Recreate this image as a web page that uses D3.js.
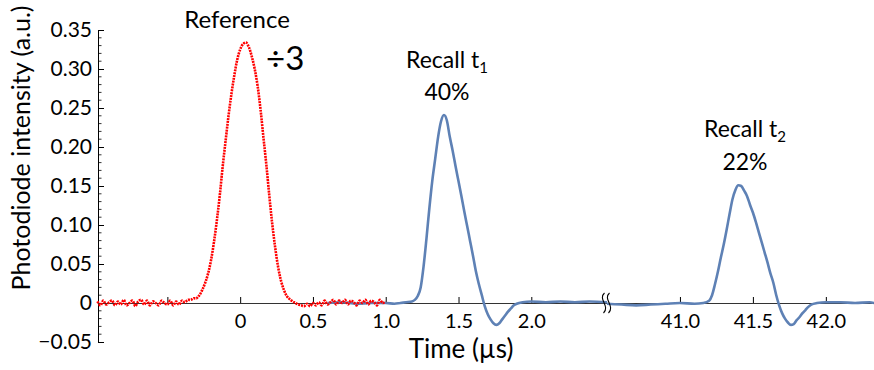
<!DOCTYPE html>
<html><head><meta charset="utf-8">
<script src="https://cdn.jsdelivr.net/npm/d3@7"></script>
<style>
html,body{margin:0;padding:0;background:#fff;}
svg{display:block;font-family:Lato,"Open Sans",sans-serif;font-weight:400;}
</style></head>
<body><svg id="chart" width="874" height="370"></svg>
<script>
// ---------- data ----------
// Reference pulse (divided by 3), sampled every 0.02 µs from -0.98 to 1.00
const refStart = -0.98, refStep = 0.02;
const refValues = [
 0.002,-0.003,0.003,-0.002,0.001,0.003,-0.003,0.002,-0.002,0.004,
 -0.003,0.000,0.003,-0.004,0.002,0.004,-0.002,0.003,-0.003,0.002,
 0.000,-0.003,0.003,0.000,-0.002,0.003,-0.003,0.002,-0.002,0.003,
 0.001,0.004,0.004,0.006,
 0.006,0.010,0.017,0.026,0.038,0.055,0.078,0.106,0.138,0.175,
 0.208,0.240,0.268,0.292,0.312,0.325,0.332,0.334,0.328,0.316,
 0.300,0.278,0.248,0.212,0.177,0.138,0.102,0.072,0.047,0.029,
 0.017,0.009,0.005,0.002,0.000,-0.002,
 -0.003,-0.004,-0.001,-0.004,0.000,-0.003,0.001,-0.003,0.003,-0.002,
 0.001,0.004,-0.002,0.003,0.000,0.004,-0.002,0.003,0.001,-0.003,
 0.003,0.000,0.004,-0.002,0.003,0.001,-0.003,0.004,0.000,0.002
];
// Recall t1 (µs, a.u.)
const recall1Time = [0.60,0.70,0.80,0.90,1.00,1.06,1.10,1.14,1.18,1.20,1.22,1.24,1.26,1.28,1.30,1.32,1.34,1.36,1.38,1.40,
 1.42,1.44,1.46,1.48,1.50,1.52,1.54,1.56,1.58,1.60,1.62,1.64,1.66,1.68,1.70,1.72,1.74,1.76,1.78,1.80,
 1.82,1.84,1.86,1.88,1.90,1.94,2.00,2.10,2.20,2.30,2.40,2.52];
const recall1Value = [0.000,0.001,-0.001,0.000,0.000,-0.001,0.000,0.001,0.002,0.004,0.009,0.020,0.047,0.083,0.122,0.157,0.185,0.213,0.233,0.241,
 0.234,0.213,0.195,0.175,0.156,0.137,0.117,0.098,0.079,0.060,0.040,0.024,0.010,-0.004,-0.014,-0.021,-0.026,-0.028,-0.026,-0.021,
 -0.016,-0.011,-0.007,-0.003,-0.001,0.001,0.002,0.001,0.002,0.001,0.002,0.001];
// Recall t2
const recall2Time = [40.50,40.60,40.70,40.80,40.90,41.00,41.10,41.16,41.20,41.22,41.24,41.26,41.28,41.30,41.32,41.34,41.36,41.38,41.40,41.42,
 41.44,41.46,41.48,41.50,41.52,41.54,41.56,41.58,41.60,41.62,41.64,41.66,41.68,41.70,41.72,41.74,41.76,41.78,41.80,41.82,
 41.84,41.86,41.88,41.90,41.94,42.00,42.10,42.20,42.30,42.33];
const recall2Value = [-0.001,-0.002,-0.003,-0.002,-0.001,0.000,-0.001,0.000,0.003,0.010,0.024,0.040,0.058,0.075,0.094,0.114,0.133,0.145,0.151,0.150,
 0.144,0.137,0.126,0.116,0.104,0.091,0.078,0.065,0.052,0.038,0.026,0.010,-0.003,-0.013,-0.020,-0.025,-0.028,-0.027,-0.022,-0.018,
 -0.013,-0.009,-0.005,-0.002,0.000,0.001,0.001,0.000,0.001,0.000];
const yTicks = [-0.05,0,0.05,0.10,0.15,0.20,0.25,0.30,0.35];
const yTickLabels = ["\u22120.05","0","0.05","0.10","0.15","0.20","0.25","0.30","0.35"];
const xTicks = [-0.5,0,0.5,1.0,1.5,2.0,41.0,41.5,42.0];
const xTickLabels = ["","0","0.5","1.0","1.5","2.0","41.0","41.5","42.0"];

// ---------- scales ----------
const svg = d3.select("#chart");
const x = d3.scaleLinear().domain([-0.98,2.52,40.5,42.33]).range([97.5,607,607,874]);
const y = d3.scaleLinear().domain([-0.05,0.35]).range([342,30]);

// ---------- axes ----------
const yAxis = d3.axisLeft(y).tickValues(yTicks).tickFormat((d,i)=>yTickLabels[i])
  .tickSizeInner(-6).tickSizeOuter(0).tickPadding(6);
const gy = svg.append("g").attr("transform","translate(98,0)").call(yAxis);
gy.select(".domain").attr("stroke","#000");
gy.selectAll("text").attr("font-size",21).attr("fill","#000").attr("font-family","Lato").attr("font-weight",400);
// minor ticks
const minor = d3.range(-5,36).map(i=>i/100).filter(v=>Math.abs(Math.round(v*100)%5)!==0);
svg.append("g").selectAll("line").data(minor).join("line")
  .attr("x1",98).attr("x2",101.5).attr("y1",d=>y(d)).attr("y2",d=>y(d))
  .attr("stroke","#000").attr("stroke-width",0.8);

const xAxis = d3.axisBottom(x).tickValues(xTicks).tickFormat((d,i)=>xTickLabels[i])
  .tickSizeInner(-6).tickSizeOuter(0).tickPadding(11);
const gx = svg.append("g").attr("transform",`translate(0,${y(0)})`).call(xAxis);
gx.select(".domain").attr("stroke","#333");
gx.selectAll("text").attr("font-size",20).attr("fill","#000").attr("font-family","Lato").attr("font-weight",400);

// ---------- data lines ----------
const line = d3.line().x(d=>x(d[0])).y(d=>y(d[1])).curve(d3.curveMonotoneX);
const blue = "#5e81b5";
svg.append("path").datum(recall1Time.map((t,i)=>[t,recall1Value[i]]))
  .attr("d",line).attr("fill","none").attr("stroke",blue).attr("stroke-width",2.6);
svg.append("path").datum(recall2Time.map((t,i)=>[t,recall2Value[i]]))
  .attr("d",line).attr("fill","none").attr("stroke",blue).attr("stroke-width",2.6);
const refData = refValues.map((v,i)=>[refStart+refStep*i,v]);
svg.append("path").datum(refData)
  .attr("d",d3.line().x(d=>x(d[0])).y(d=>y(d[1])).curve(d3.curveCatmullRom))
  .attr("fill","none").attr("stroke","#ff0000").attr("stroke-width",2.6)
  .attr("stroke-dasharray","2,0.9");

// axis break symbol
const bx = x(2.52), by = y(0);
[-2.5,2.5].forEach(o=>{
  svg.append("path")
    .attr("d",`M${bx+o},${by-10} C${bx+o-7},${by-4} ${bx+o+6},${by+3} ${bx+o-1},${by+10}`)
    .attr("fill","none").attr("stroke","#000").attr("stroke-width",1.1);
});

// ---------- labels ----------
svg.append("text").attr("x",461).attr("y",358).attr("text-anchor","middle")
  .attr("font-size",26).text("Time (\u00b5s)");
svg.append("text").attr("transform","translate(30,148) rotate(-90)").attr("text-anchor","middle")
  .attr("font-size",25).text("Photodiode intensity (a.u.)");
svg.append("text").attr("x",237).attr("y",28).attr("text-anchor","middle").attr("font-size",24).text("Reference");
svg.append("text").attr("x",266).attr("y",70).attr("font-size",33).text("\u00f73");
const r1 = svg.append("text").attr("x",447).attr("y",68).attr("text-anchor","middle").attr("font-size",23);
r1.append("tspan").text("Recall t");
r1.append("tspan").attr("font-size",15).attr("dy",5).text("1");
svg.append("text").attr("x",447).attr("y",100).attr("text-anchor","middle").attr("font-size",23).text("40%");
const r2 = svg.append("text").attr("x",745).attr("y",137).attr("text-anchor","middle").attr("font-size",23);
r2.append("tspan").text("Recall t");
r2.append("tspan").attr("font-size",15).attr("dy",5).text("2");
svg.append("text").attr("x",745).attr("y",170).attr("text-anchor","middle").attr("font-size",23).text("22%");
</script></body></html>
